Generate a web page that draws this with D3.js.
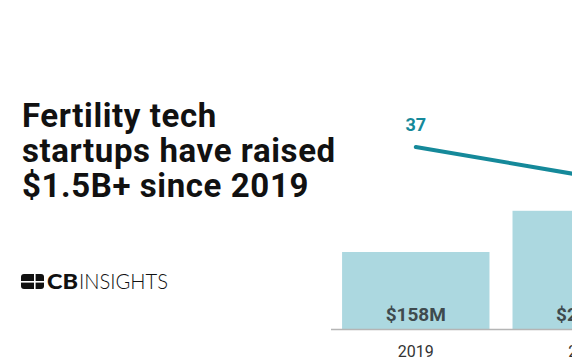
<!DOCTYPE html>
<html>
<head>
<meta charset="utf-8">
<script src="https://cdn.jsdelivr.net/npm/d3@7/dist/d3.min.js"></script>
<style>
  html, body { margin: 0; padding: 0; background: #fff; }
  svg { display: block; }
</style>
</head>
<body>
<div id="chart"></div>
<script>
'use strict';

// data (the rest of the chart is cut off on the right)
var years = ["2019", "2020"];
var funding = [158, 242];        // $M
var fundingLabels = ["$158M", "$242M"];
var deals = [37, 31];
var titleLines = ["Fertility tech", "startups have raised", "$1.5B+ since 2019"];

var W = 572, H = 364;
var svg = d3.select("#chart").append("svg").attr("width", W).attr("height", H);

// title
svg.append("g").selectAll("text").data(titleLines).enter().append("text")
    .attr("x", 22)
    .attr("y", function (d, i) { return 127 + i * 35; })
    .style("font-family", "Roboto, sans-serif")
    .style("font-weight", 700)
    .style("font-size", "33px")
    .style("letter-spacing", "0.6px")
    .attr("fill", "#111")
    .text(function (d) { return d; });

// logo
var logo = svg.append("g");
logo.append("rect").attr("x", 21).attr("y", 274).attr("width", 23).attr("height", 15).attr("rx", 3).attr("fill", "#111");
logo.append("rect").attr("x", 34).attr("y", 274).attr("width", 1.6).attr("height", 15).attr("fill", "#fff");
logo.append("rect").attr("x", 21).attr("y", 281).attr("width", 23).attr("height", 1.6).attr("fill", "#fff");
logo.append("text").attr("x", 47).attr("y", 289)
    .style("font-family", "Lato, sans-serif").style("font-weight", 900).style("font-size", "21px")
    .attr("fill", "#111").attr("textLength", 31).attr("lengthAdjust", "spacingAndGlyphs").text("CB");
logo.append("text").attr("x", 79).attr("y", 289)
    .style("font-family", "Lato, sans-serif").style("font-weight", 300).style("font-size", "21px")
    .attr("fill", "#111").attr("textLength", 89).attr("lengthAdjust", "spacingAndGlyphs").text("INSIGHTS");

// scales
var base = 329.5;
var x = d3.scaleBand().domain(years).range([331, 331 + 170 * years.length])
    .paddingInner(0.135).paddingOuter(0.065);
var yBar = d3.scaleLinear().domain([0, 158]).range([base, 252]);
var yLine = d3.scaleLinear().domain([0, 37]).range([326, 147]);

// bars
svg.append("g").selectAll("rect").data(funding).enter().append("rect")
    .attr("x", function (d, i) { return x(years[i]); })
    .attr("y", function (d) { return yBar(d); })
    .attr("width", x.bandwidth())
    .attr("height", function (d) { return base - yBar(d); })
    .attr("fill", "#acd8e0");

svg.append("g").selectAll("text").data(fundingLabels).enter().append("text")
    .attr("x", function (d, i) { return x(years[i]) + x.bandwidth() / 2; })
    .attr("y", 321)
    .attr("text-anchor", "middle")
    .style("font-family", "Roboto, sans-serif")
    .style("font-weight", 700)
    .style("font-size", "19px")
    .attr("fill", "#3e4a4e")
    .text(function (d) { return d; });

// axis
var axis = svg.append("g").attr("transform", "translate(0," + base + ")")
    .call(d3.axisBottom(x).tickSize(0).tickPadding(0));
axis.select(".domain").attr("stroke", "#b5b5b5").attr("stroke-width", 1.5).attr("d", "M331,0H" + (331 + 170 * years.length));
axis.selectAll(".tick text")
    .attr("y", 27.5).attr("dy", null)
    .style("font-family", "Roboto, sans-serif")
    .style("font-size", "16px")
    .attr("fill", "#333");

// deals line
var line = d3.line()
    .x(function (d, i) { return x(years[i]) + x.bandwidth() / 2; })
    .y(function (d) { return yLine(d); });
svg.append("path").datum(deals)
    .attr("d", line)
    .attr("fill", "none")
    .attr("stroke", "#15899a")
    .attr("stroke-width", 4)
    .attr("stroke-linecap", "round");

svg.append("g").selectAll("text").data(deals).enter().append("text")
    .attr("x", function (d, i) { return x(years[i]) + x.bandwidth() / 2; })
    .attr("y", function (d) { return yLine(d) - 16; })
    .attr("text-anchor", "middle")
    .style("font-family", "Roboto, sans-serif")
    .style("font-weight", 700)
    .style("font-size", "18px")
    .attr("fill", "#15899a")
    .text(function (d) { return d; });
</script>
</body>
</html>
